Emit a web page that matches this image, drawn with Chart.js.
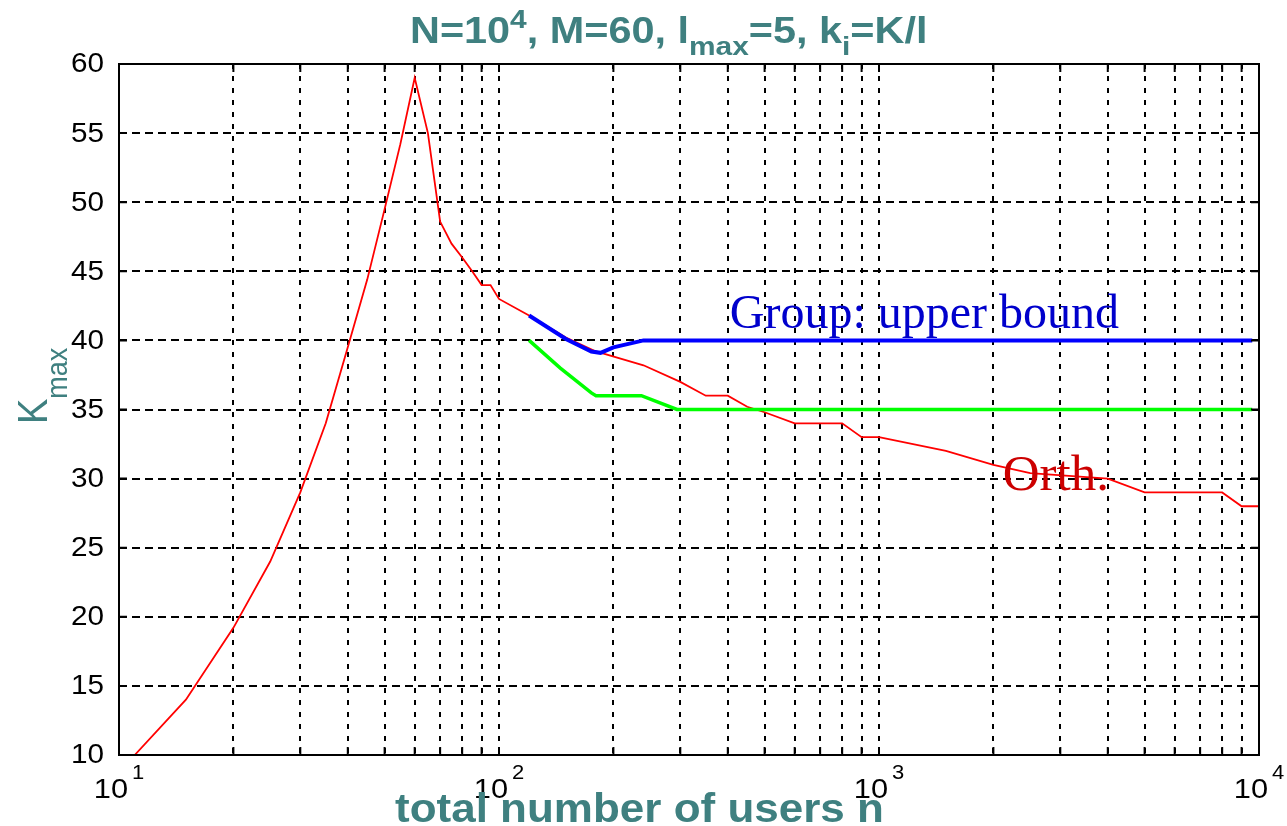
<!DOCTYPE html>
<html lang="en">
<head>
<meta charset="UTF-8">
<title>Kmax vs total number of users</title>
<script src="https://cdn.jsdelivr.net/npm/chart.js"></script>
<style>
  html, body { margin: 0; padding: 0; background: #fff; }
  #wrap { width: 1287px; height: 826px; }
</style>
</head>
<body>
<div id="wrap"><canvas id="kmaxChart" width="1287" height="826"></canvas></div>
<script>
// values
const orthN = [11, 15, 20, 25, 30, 35, 40, 45, 50, 55, 60, 65, 70, 75, 80, 85, 90, 95, 100, 120, 150, 180, 240, 300, 350, 400, 450, 500, 600, 800, 900, 1000, 1500, 2000, 2500, 4000, 5000, 8000, 9000, 10000];
const orthK = [10, 14, 19.2, 24, 29, 34, 39.5, 44.4, 49.5, 54.2, 59, 55, 48.6, 47, 46, 45, 44, 44, 43, 41.8, 40.2, 39.2, 38.2, 37, 36, 36, 35.2, 34.8, 34, 34, 33, 33, 32, 31, 30.4, 30, 29, 29, 28, 28];

const groupN = [120, 150, 175, 185, 200, 240, 9600];
const groupK = [41.8, 40.1, 39.2, 39.1, 39.5, 40, 40];

const lowerN = [120, 145, 175, 180, 237, 294, 9600];
const lowerK = [40, 38, 36.2, 36, 36, 35, 35];

const xTicks = [10, 20, 30, 40, 50, 60, 70, 80, 90, 100, 200, 300, 400, 500, 600, 700, 800, 900,
                1000, 2000, 3000, 4000, 5000, 6000, 7000, 8000, 9000, 10000];
const xLabelTicks = [10, 100, 1000, 10000];
const yTicks = [10, 15, 20, 25, 30, 35, 40, 45, 50, 55, 60];

const teal = '#3f8080';

function pts(xs, ys) {
    return xs.map((x, i) => ({ x: x, y: ys[i] }));
}

// draw text stretched sideways like the exported figure
function stretchText(ctx, txt, x, y, sx, font, color, align) {
    ctx.save();
    ctx.translate(x, y);
    ctx.scale(sx, 1);
    ctx.font = font;
    ctx.fillStyle = color;
    ctx.textAlign = align || 'left';
    ctx.fillText(txt, 0, 0);
    ctx.restore();
}

// runs of text with sub/superscripts
function drawRuns(ctx, runs, x, y, sx, color) {
    ctx.save();
    ctx.translate(x, y);
    ctx.scale(sx, 1);
    ctx.fillStyle = color;
    ctx.textAlign = 'left';
    ctx.textBaseline = 'alphabetic';
    let cx = 0;
    runs.forEach(r => {
        ctx.font = r.font;
        ctx.fillText(r.t, cx, r.dy || 0);
        cx += ctx.measureText(r.t).width;
    });
    ctx.restore();
}

const matlabFrame = {
    id: 'matlabFrame',
    afterDraw(chart) {
        const ctx = chart.ctx;
        const a = chart.chartArea;
        const xs = chart.scales.x;
        const ys = chart.scales.y;
        const sans = s => s + 'px "Liberation Sans", Arial, sans-serif';
        const bold = s => 'bold ' + s + 'px "Liberation Sans", Arial, sans-serif';

        // box
        ctx.save();
        ctx.strokeStyle = '#000';
        ctx.lineWidth = 2;
        ctx.strokeRect(a.left, a.top, a.right - a.left, a.bottom - a.top);

        // inner tick marks
        ctx.lineWidth = 2;
        ctx.beginPath();
        xTicks.forEach(v => {
            const px = xs.getPixelForValue(v);
            ctx.moveTo(px, a.bottom); ctx.lineTo(px, a.bottom - 8);
            ctx.moveTo(px, a.top); ctx.lineTo(px, a.top + 8);
        });
        yTicks.forEach(v => {
            const py = ys.getPixelForValue(v);
            ctx.moveTo(a.left, py); ctx.lineTo(a.left + 8, py);
            ctx.moveTo(a.right, py); ctx.lineTo(a.right - 8, py);
        });
        ctx.stroke();
        ctx.restore();

        // y tick labels
        ctx.save();
        ctx.textBaseline = 'middle';
        yTicks.forEach(v => {
            stretchText(ctx, String(v), a.left - 15, ys.getPixelForValue(v) + 1, 1.1, sans(27), '#000', 'right');
        });
        ctx.restore();

        // x tick labels 10^k
        xLabelTicks.forEach(v => {
            const px = xs.getPixelForValue(v);
            const ex = String(Math.round(Math.log10(v)));
            ctx.save();
            ctx.font = sans(28);
            const wb = ctx.measureText('10').width * 1.1;
            ctx.font = sans(20);
            const we = ctx.measureText(ex).width * 1.1;
            ctx.restore();
            const x0 = px - (wb + 4 + we) / 2;
            stretchText(ctx, '10', x0, a.bottom + 43, 1.1, sans(28), '#000');
            stretchText(ctx, ex, x0 + wb + 4, a.bottom + 24, 1.1, sans(20), '#000');
        });

        // title
        drawRuns(ctx, [
            { t: 'N=10', font: bold(36) },
            { t: '4', font: bold(26), dy: -15 },
            { t: ', M=60, l', font: bold(36) },
            { t: 'max', font: bold(26), dy: 12 },
            { t: '=5, k', font: bold(36) },
            { t: 'i', font: bold(26), dy: 12 },
            { t: '=K/l', font: bold(36) }
        ], 410, 43, 1.15, teal);

        // x axis title
        stretchText(ctx, 'total number of users n', 395, a.bottom + 67, 1.1, bold(40), teal);

        // y axis title, rotated
        ctx.save();
        ctx.translate(47, 424);
        ctx.rotate(-Math.PI / 2);
        ctx.scale(1, 1.12);
        ctx.fillStyle = teal;
        ctx.font = sans(38);
        ctx.fillText('K', 0, 0);
        const kw = ctx.measureText('K').width;
        ctx.font = sans(27);
        ctx.fillText('max', kw, 18);
        ctx.restore();

        // in-plot labels
        stretchText(ctx, 'Group: upper bound', xs.getPixelForValue(405), ys.getPixelForValue(40.9), 1,
            '48px "Liberation Serif", "Times New Roman", serif', '#0000cc');
        stretchText(ctx, 'Orth.', xs.getPixelForValue(2117), ys.getPixelForValue(29.2), 1,
            '51px "Liberation Serif", "Times New Roman", serif', '#cc0000');
    }
};

const ctx = document.getElementById('kmaxChart').getContext('2d');
new Chart(ctx, {
    type: 'line',
    data: {
        datasets: [
            {
                label: 'Orth.',
                data: pts(orthN, orthK),
                borderColor: '#ff0000',
                borderWidth: 1.8,
                pointRadius: 0,
                tension: 0,
                order: 3
            },
            {
                label: 'Group: upper bound',
                data: pts(groupN, groupK),
                borderColor: '#0000ff',
                borderWidth: 4,
                pointRadius: 0,
                tension: 0,
                order: 1
            },
            {
                label: 'Group',
                data: pts(lowerN, lowerK),
                borderColor: '#00ff00',
                borderWidth: 3.5,
                pointRadius: 0,
                tension: 0,
                order: 2
            }
        ]
    },
    options: {
        responsive: false,
        animation: false,
        devicePixelRatio: 1,
        layout: { padding: { left: 119, right: 28, top: 64, bottom: 71 } },
        plugins: {
            legend: { display: false },
            tooltip: { enabled: false }
        },
        scales: {
            x: {
                type: 'logarithmic',
                min: 10,
                max: 10000,
                afterBuildTicks: s => { s.ticks = xTicks.map(v => ({ value: v })); },
                ticks: { display: false },
                grid: { color: '#000', lineWidth: 2, drawTicks: false },
                border: { display: false, dash: [5, 7] }
            },
            y: {
                min: 10,
                max: 60,
                afterBuildTicks: s => { s.ticks = yTicks.map(v => ({ value: v })); },
                ticks: { display: false },
                grid: { color: '#000', lineWidth: 2, drawTicks: false },
                border: { display: false, dash: [8, 5] }
            }
        }
    },
    plugins: [matlabFrame]
});
</script>
</body>
</html>
